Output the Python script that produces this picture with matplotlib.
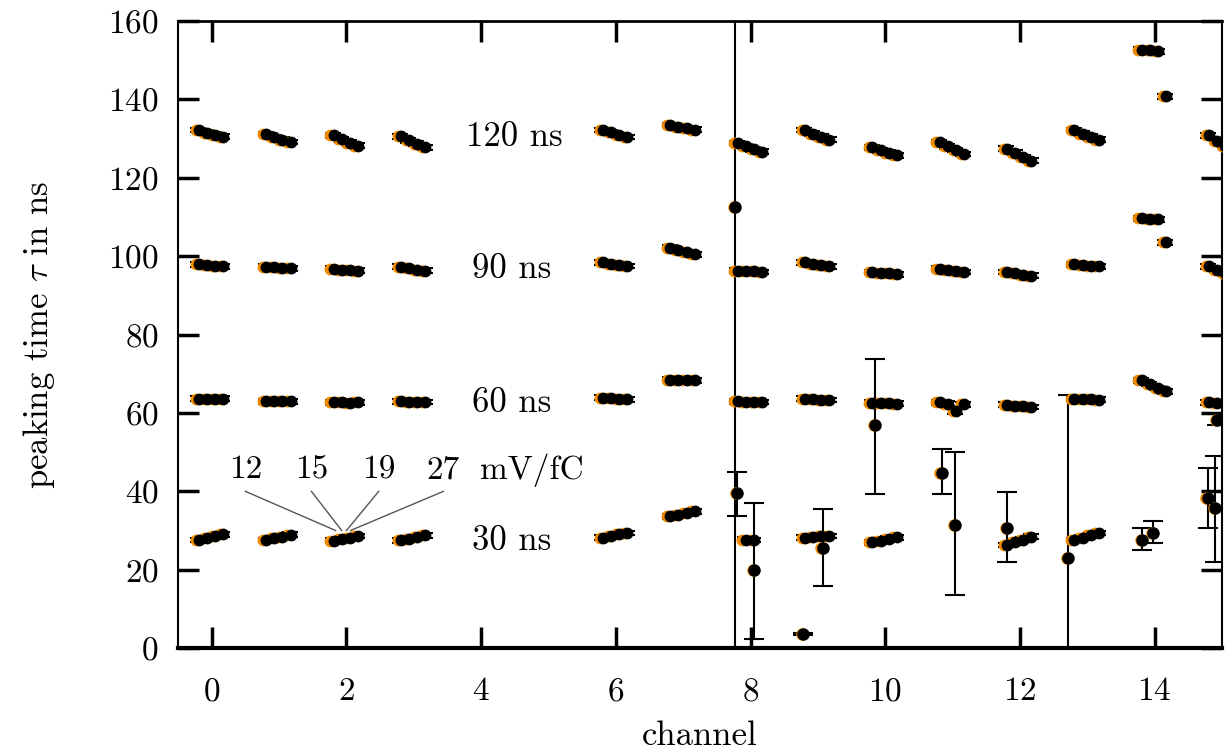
import numpy as np
import matplotlib
matplotlib.use('Agg')
import matplotlib.pyplot as plt

plt.rcParams['font.family'] = 'cmr10'
plt.rcParams['mathtext.fontset'] = 'cm'
plt.rcParams['axes.formatter.use_mathtext'] = True

nan = np.nan

channels = [0, 1, 2, 3, 6, 7, 8, 9, 10, 11, 12, 13, 14, 15]
gains = ['12', '15', '19', '27']

# peaking time per channel, one column per gain (12, 15, 19, 27 mV/fC)
tau_120 = [
    [132.2, 131.5, 131.0, 130.5],
    [131.2, 130.4, 129.7, 129.1],
    [130.8, 129.9, 129.0, 128.2],
    [130.6, 129.6, 128.7, 127.8],
    [132.2, 131.6, 130.9, 130.4],
    [133.5, 133.0, 132.7, 132.3],
    [128.9, 128.1, 127.3, 126.7],
    [132.2, 131.3, 130.5, 129.7],
    [127.8, 127.0, 126.4, 125.7],
    [129.1, 128.0, 127.1, 126.1],
    [127.4, 126.4, 125.3, 124.4],
    [132.2, 131.3, 130.5, 129.7],
    [152.7, 152.5, 152.3, 140.8],
    [130.8, 129.5, 128.2, 127.0],
]
tau_90 = [
    [97.9, 97.7, 97.5, 97.4],
    [97.3, 97.2, 97.0, 96.9],
    [96.8, 96.6, 96.5, 96.3],
    [97.3, 96.9, 96.6, 96.3],
    [98.4, 98.1, 97.8, 97.5],
    [102.2, 101.6, 101.0, 100.5],
    [96.3, 96.2, 96.1, 96.0],
    [98.4, 98.0, 97.7, 97.4],
    [96.0, 95.8, 95.6, 95.4],
    [96.8, 96.5, 96.3, 96.0],
    [96.0, 95.7, 95.3, 95.0],
    [97.9, 97.7, 97.5, 97.4],
    [109.7, 109.5, 109.4, 103.5],
    [97.4, 96.6, 95.8, 94.9],
]
tau_60 = [
    [63.6, 63.6, 63.5, 63.6],
    [63.0, 63.1, 63.0, 63.0],
    [62.7, 62.7, 62.6, 62.7],
    [63.0, 62.9, 62.8, 62.8],
    [63.9, 63.8, 63.6, 63.5],
    [68.5, 68.4, 68.4, 68.3],
    [63.0, 62.9, 62.9, 62.8],
    [63.6, 63.5, 63.4, 63.3],
    [62.6, 62.5, 62.5, 62.4],
    [62.7, 62.4, 60.4, 62.2],
    [62.1, 61.9, 61.7, 61.5],
    [63.6, 63.6, 63.5, 63.4],
    [68.3, 67.4, 66.4, 65.5],
    [62.7, 62.6, nan, 62.5],
]
tau_30 = [
    [27.6, 28.0, 28.5, 29.0],
    [27.6, 28.0, 28.4, 28.9],
    [27.4, 27.8, 28.2, 28.6],
    [27.5, 27.9, 28.3, 28.8],
    [28.2, 28.6, 29.0, 29.4],
    [33.6, 34.0, 34.5, 34.9],
    [nan, 27.7, 27.6, nan],
    [28.2, 28.3, 28.5, 28.6],
    [27.0, 27.4, 27.9, 28.3],
    [nan, nan, nan, nan],
    [26.3, 27.0, 27.7, 28.4],
    [27.6, 28.2, 28.8, 29.4],
    [nan, nan, nan, nan],
    [nan, nan, nan, nan],
]
point_err = 0.6

# badly fitted points with large uncertainties
out_x = [7.77, 7.80, 8.05, 8.78, 9.07, 9.85, 10.84, 11.04, 11.81, 12.72, 13.82, 13.98, 14.79, 14.90, 14.93]
out_y = [112.5, 39.6, 19.9, 3.6, 25.6, 56.8, 44.8, 31.5, 30.7, 23.0, 27.6, 29.4, 38.4, 35.8, 58.3]
out_lo = [-20.0, 33.8, 2.3, 3.3, 15.9, 39.4, 39.4, 13.6, 22.0, -20.0, 25.0, 26.9, 30.7, 22.0, 56.8]
out_hi = [200.0, 45.0, 37.1, 3.9, 35.5, 73.7, 50.9, 50.1, 39.9, 64.6, 30.7, 32.5, 46.0, 48.9, 59.8]

tau_labels = ['30 ns', '60 ns', '90 ns', '120 ns']
tau_label_pos = [(4.45, 27.4), (4.45, 62.4), (4.45, 96.7), (4.5, 130.3)]
gain_label_x = [0.5, 1.48, 2.48, 3.44]
gain_arrow_end = [1.84, 1.93, 2.0, 2.06]

gain_offset = [-0.24, -0.12, 0.0, 0.12]
orange = '#f08a00'

fig = plt.figure(figsize=(12.27, 7.51), dpi=100)
ax = fig.add_axes([0.1451, 0.137, 0.8508, 0.835])

ch = np.array(channels, dtype=float)
for vals in (tau_30, tau_60, tau_90, tau_120):
    vals = np.array(vals)
    for g in range(len(gains)):
        x = ch + gain_offset[g]
        y = vals[:, g]
        ax.errorbar(x + 0.04, y, yerr=point_err, fmt='none', ecolor='black',
                    elinewidth=1.5, capsize=6, capthick=1.5, zorder=2)
        ax.plot(x, y, 'o', color=orange, ms=8.5, mec='none', zorder=3)
        ax.plot(x + 0.05, y, 'o', color='black', ms=8.5, mec='none', zorder=4)

oy = np.array(out_y)
yerr = [oy - np.array(out_lo), np.array(out_hi) - oy]
ax.errorbar(out_x, oy, yerr=yerr, fmt='none', ecolor='black',
            elinewidth=1.5, capsize=7, capthick=1.5, zorder=2)
ax.plot(np.array(out_x) - 0.02, oy, 'o', color=orange, ms=9, mec='none', zorder=3)
ax.plot(out_x, oy, 'o', color='black', ms=9, mec='none', zorder=4)

for lab, (tx, ty) in zip(tau_labels, tau_label_pos):
    ax.text(tx, ty, lab, ha='center', va='center', fontsize=25,
            bbox=dict(facecolor='white', edgecolor='none', pad=1))

for g in range(len(gains)):
    ax.text(gain_label_x[g], 45.5, gains[g], ha='center', va='center', fontsize=24)
    ax.plot([gain_label_x[g], gain_arrow_end[g]], [40.0, 30.0], color='#555555', lw=1, zorder=1)
ax.text(4.76, 45.5, 'mV/fC', ha='center', va='center', fontsize=24)

ax.set_xlim(-0.5, 15.0)
ax.set_ylim(0, 160)
ax.set_xticks(range(0, 15, 2))
ax.set_yticks(range(0, 161, 20))
ax.tick_params(direction='in', top=True, right=True, length=15, width=2.5,
               labelsize=24, pad=14)
ax.tick_params(axis='x', pad=21)
for s in ax.spines.values():
    s.set_linewidth(1.5)
ax.spines['bottom'].set_linewidth(3)
ax.spines['top'].set_linewidth(2)

ax.set_xlabel('channel', fontsize=25, labelpad=10)
ax.set_ylabel(r'peaking time $\tau$ in ns', fontsize=25, labelpad=37)

fig.savefig('out.png', dpi=100)
